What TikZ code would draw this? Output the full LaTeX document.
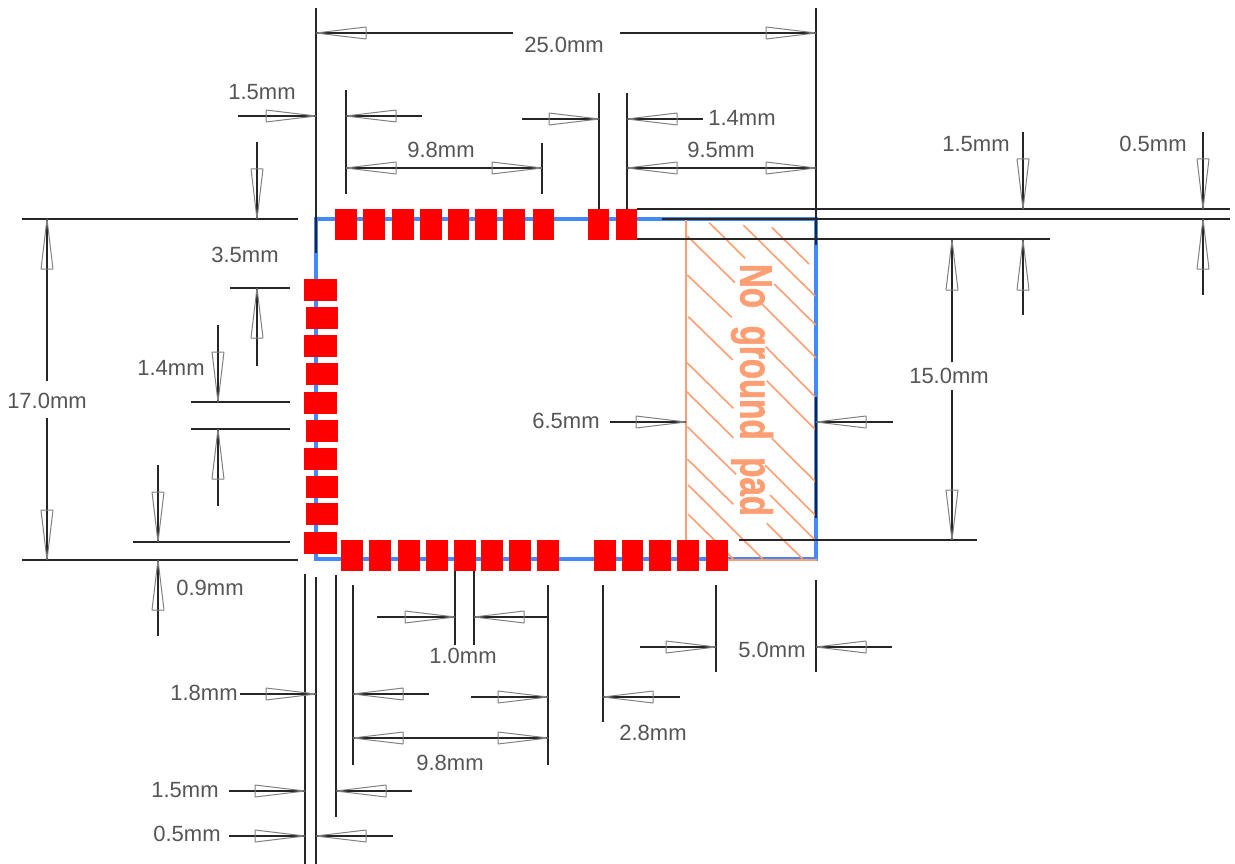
\documentclass[tikz,border=0pt]{standalone}
\usepackage{fontspec}
\setmainfont{Liberation Sans}
\newfontfamily\padfont[FakeBold=1.6]{Liberation Sans Bold}
\definecolor{padred}{HTML}{FF0000}
\definecolor{outlineblue}{HTML}{4488FF}
\definecolor{keepout}{HTML}{FF9E73}
\definecolor{dimgrey}{HTML}{555555}
\newcommand{\DimTip}[3]{\draw[dimtip, shift={(#1,#2)}, rotate=#3] (0,0) -- (50,6) -- (50,-6) -- cycle;}

\begin{document}
\begin{tikzpicture}[
    x=1pt,
    y=-1pt,
    dimline/.style={black!85, line width=1.3pt},
    dimtip/.style={draw=black!50, line width=1pt, line join=bevel},
    hatchline/.style={keepout, line width=1.6pt},
    dimlabel/.style={text=dimgrey, inner sep=0pt, font=\fontsize{22}{24}\selectfont},
    ]

    \useasboundingbox (0,0) rectangle (1235,864);

    \draw[outlineblue, line width=3.1pt] (316,219) rectangle (816,559);

    \foreach \xa/\ya/\xb/\yb in {
      709.3/222.7/745/258.3, 743.3/225/815/296, 771.7/227.3/809/264,
      687.3/236/735/282.7, 774.3/284/815.7/325, 687.3/275/731.7/317.3,
      762.3/304.3/816/358, 688.3/316.7/732.7/360, 765.7/346.7/815/396.7,
      686/361.7/733.3/408.3, 766.7/380.7/815/429.3, 686.7/391.7/733.3/437.7,
      771.7/438.3/816/482.3, 687.3/426.7/736/474.3, 765/465/815/515,
      687.3/459/733.3/504.3, 770/495/816/541, 688.3/485/762.7/559,
      766.7/523.3/802.7/559, 688.3/514.3/733.3/559}
      \draw[hatchline] (\xa,\ya) -- (\xb,\yb);
    \draw[keepout, line width=1.6pt] (686,219) -- (686,545);
    \draw[keepout, line width=1.2pt] (728,560) -- (817,560);

    \node[rotate=-90, xscale=0.735, text=keepout, inner sep=0pt,
      font=\fontsize{45}{47}\selectfont\padfont] (nopad) at (752,390) {No\hspace{24pt}ground\hspace{24pt}pad};

    \foreach \xa/\ya/\xb/\yb in {
      316/8/316/253, 816/8/816/245, 816/397/816/518,
      316/33/513/33, 620/33/816/33,
      238/116/316/116, 346/90/346/194, 346/116/422/116,
      346/168/542/168, 542/143/542/194,
      599/93/599/209, 627/93/627/209, 522/119/599/119, 627/119/703/119,
      627/168/816/168,
      637/209/1230/209, 662/219/1230/219, 637/239/1050/239,
      1023/132/1023/209, 1023/240/1023/315,
      1203/132/1203/209, 1203/219/1203/295,
      952/240/952/362, 952/390/952/540, 739/540/977/540,
      610/422/686/422, 816/422/893/422,
      22/219/298/219, 22/560/298/560, 47/219/47/381, 47/418/47/560,
      257/142/257/219, 257/288/257/366, 230/288/290/288,
      218/325/218/402, 218/429/218/506, 191/402/290/402, 191/429/290/429,
      158/465/158/542, 158/560/158/636, 133/542/290/542,
      305/574/305/864, 316/577/316/864, 336/575/336/817, 353/585/353/765,
      240/694/316/694, 353/694/429/694,
      229/791/305/791, 336/791/412/791,
      229/836/305/836, 316/836/393/836,
      353/738/548/738, 548/585/548/765, 471/697/548/697,
      455/570/455/645, 474/570/474/645, 377/617/455/617, 474/617/548/617,
      603/585/603/722, 603/697/680/697,
      716/585/716/672, 816/580/816/672, 640/647/716/647, 816/647/892/647}
      \draw[dimline] (\xa,\ya) -- (\xb,\yb);

    \foreach \xa in {335,363,392,420,447.6,475,503,532.6,587.6,615.6}
      \fill[padred] (\xa,209) rectangle ++(21.5,31);
    \foreach \ya/\xa in {279/304.3,307/305.7,335/304.3,363/305.7,392/304.3,420/305.7,448/304.3,476/305.7,503/305.7,532/304.3}
      \fill[padred] (\xa,\ya) rectangle ++(32.5,21.5);
    \foreach \xa in {341.3,369,398.3,426,454,481,509,537,594,621.7,649.3,677,706.3}
      \fill[padred] (\xa,540) rectangle ++(21.5,30.5);

    \foreach \xa/\ya/\ang in {
      316/33/0, 816/33/180, 316/116/180, 346/116/0, 346/168/0, 542/168/180,
      599/119/180, 627/119/0, 627/168/0, 816/168/180,
      1023/209/90, 1023/240/-90, 1203/209/90, 1203/219/-90,
      952/240/-90, 952/540/90, 686/422/180, 816/422/0,
      47/219/-90, 47/560/90, 257/219/90, 257/288/-90,
      218/402/90, 218/429/-90, 158/542/90, 158/560/-90,
      316/694/180, 353/694/0, 305/791/180, 336/791/0, 305/836/180, 316/836/0,
      353/738/0, 548/738/180, 548/697/180, 603/697/0,
      455/617/180, 474/617/0, 716/647/180, 816/647/0}
      {\DimTip{\xa}{\ya}{\ang}}

    \node[dimlabel] (top25) at (564,45) {25.0mm};
    \node[dimlabel] (gapa) at (262,92) {1.5mm};
    \node[dimlabel] (rowtop) at (441,150) {9.8mm};
    \node[dimlabel] (gaptop) at (742,118) {1.4mm};
    \node[dimlabel] (rightb) at (721,150) {9.5mm};
    \node[dimlabel] (edgeb) at (976,144) {1.5mm};
    \node[dimlabel] (edgec) at (1153,144) {0.5mm};
    \node[dimlabel] (lefta) at (245,255) {3.5mm};
    \node[dimlabel] (gapleft) at (171,368) {1.4mm};
    \node[dimlabel] (side17) at (47,401) {17.0mm};
    \node[dimlabel] (pad65) at (566,421) {6.5mm};
    \node[dimlabel] (side15) at (949,376) {15.0mm};
    \node[dimlabel] (leftb) at (210,588) {0.9mm};
    \node[dimlabel] (padwd) at (463,656) {1.0mm};
    \node[dimlabel] (bota) at (772,650) {5.0mm};
    \node[dimlabel] (botb) at (204,693) {1.8mm};
    \node[dimlabel] (botc) at (653,733) {2.8mm};
    \node[dimlabel] (rowbot) at (450,763) {9.8mm};
    \node[dimlabel] (botd) at (185,790) {1.5mm};
    \node[dimlabel] (bote) at (187,834) {0.5mm};

  \end{tikzpicture}
\end{document}
